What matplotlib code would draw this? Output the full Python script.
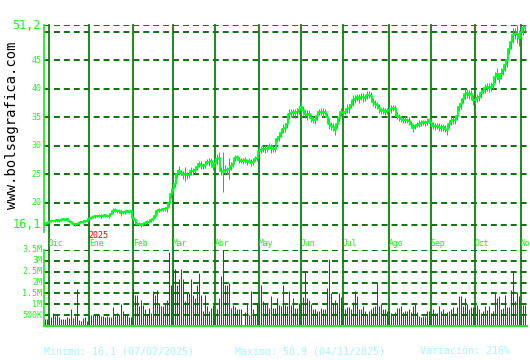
import matplotlib
matplotlib.use('Agg')
import matplotlib.pyplot as plt
import numpy as np

# daily closes, one per session, late Nov 2024 -> 04/11/2025
close = [16.35, 16.5, 16.6, 16.8, 16.75, 16.85, 16.9, 16.8, 17.0, 17.1,
         17.05, 17.1, 16.8, 16.6, 16.3, 16.2, 16.25, 16.4, 16.6, 16.7,
         16.8, 16.75, 17.2, 17.3, 17.5, 17.6, 17.7, 17.75, 17.6, 17.7,
         17.8, 17.65, 17.7, 18.1, 18.6, 18.7, 18.5, 18.6, 18.2, 18.3,
         18.4, 18.5, 18.45, 18.5, 17.4, 16.9, 16.35, 16.3, 16.1, 16.2,
         16.4, 16.6, 16.6, 16.9, 17.1, 17.6, 18.5, 18.7, 18.8, 18.85,
         18.9, 19.0, 20.0, 21.5, 22.5, 23.3, 25.0, 25.6, 25.3, 24.9,
         25.1, 24.8, 24.9, 25.6, 25.5, 25.7, 26.3, 26.8, 26.6, 26.5,
         26.7, 27.2, 27.1, 27.3, 26.3, 27.0, 27.6, 27.9, 25.6, 25.4,
         25.8, 25.7, 26.0, 26.4, 26.8, 27.8, 28.0, 27.5, 27.4, 27.3,
         27.5, 27.2, 27.4, 27.0, 27.1, 27.7, 27.9, 29.15, 29.3, 29.45,
         29.5, 29.4, 30.0, 29.6, 29.45, 29.5, 31.2, 31.6, 32.3, 33.0,
         33.2, 33.85, 35.6, 35.8, 35.9, 35.7, 35.9, 36.3, 36.8, 36.2,
         35.6, 35.4, 35.6, 34.9, 34.55, 34.6, 35.3, 35.9, 36.0, 35.8,
         35.9, 35.0, 33.9, 33.55, 33.3, 32.7, 33.85, 34.8, 35.9, 35.7,
         35.9, 36.5, 36.6, 37.2, 37.95, 38.2, 38.5, 38.3, 38.6, 38.5,
         38.4, 38.85, 39.0, 38.7, 37.65, 37.3, 37.1, 36.6, 36.1, 36.2,
         36.0, 36.1, 36.3, 36.5, 36.6, 36.4, 35.3, 35.0, 34.7, 34.55,
         34.6, 34.45, 34.4, 33.8, 33.15, 33.4, 33.7, 33.9, 34.0, 34.1,
         33.95, 34.2, 34.45, 34.0, 33.55, 33.4, 33.5, 33.3, 33.2, 33.25,
         33.0, 32.7, 33.8, 34.3, 34.45, 34.5, 35.3, 36.8, 37.4, 38.2,
         39.15, 39.2, 39.0, 39.1, 38.0, 37.95, 38.4, 38.5, 39.2, 39.7,
         40.1, 40.3, 40.2, 40.4, 40.6, 42.0, 42.65, 41.8, 42.65, 43.3,
         44.1, 45.0, 47.0, 48.2, 49.4, 49.7, 49.6, 48.85, 49.9, 50.6,
         50.9]

# daily high-low range
rng = [.4, .3, .5, .4, .3, .4, .5, .3, .4, .4,
       .3, .4, .5, .4, .3, .5, .4, .3, .4, .5,
       .4, .3, .6, .4, .5, .4, .3, .5, .7, .4,
       .5, .4, .6, .5, .8, .6, .5, .7, .9, .5,
       .6, .4, .5, .6, .9, .7, .6, .5, .7, .6,
       .5, .6, .4, .5, .7, .6, .9, .7, .5, .6,
       .8, 1.2, 1.5, 1.3, 1.1, 1.2, 1.4, 1.6, 1.0, 1.3,
       2.4, 1.2, 1.0, 1.4, 1.1, .9, 1.2, 1.0, 1.3, 1.1,
       1.2, .9, 1.4, 1.0, 1.2, 1.6, 1.8, 2.0, 1.5, 7.0,
       1.8, 1.2, 3.6, 1.4, 1.0, 1.1, .9, 1.2, .8, 1.0,
       .9, 1.1, .8, 1.2, 1.0, .9, 1.1, 1.3, 1.2, 1.0,
       1.4, 1.1, 1.0, 1.6, 1.2, 1.3, 1.1, 1.5, 1.4, 1.6,
       1.5, 1.3, 1.8, 1.4, 1.2, 1.6, 1.3, 1.5, 2.0, 1.7,
       1.4, 1.8, 1.3, 1.5, 1.2, 1.4, 1.6, 1.1, 1.3, 1.5,
       1.2, 1.6, 1.8, 1.4, 1.3, 1.7, 1.5, 1.2, 1.4, 1.3,
       1.1, 1.5, 1.6, 1.3, 1.8, 1.4, 1.2, 1.7, 1.3, 1.5,
       1.2, 1.4, 1.1, 1.6, 1.5, 1.3, 1.2, 1.6, 1.0, 1.1,
       1.3, 1.0, 1.2, 1.4, 1.1, 1.5, 1.3, 1.2, 1.0, 1.1,
       1.2, 1.0, 1.4, 1.1, 1.3, 1.0, .9, 1.2, 1.1, 1.0,
       1.1, 1.2, 1.0, 1.3, 1.1, 1.2, 1.0, 1.4, 1.1, 1.3,
       1.2, 1.5, 1.3, 1.4, 1.1, 1.2, 1.6, 1.5, 1.8, 1.4,
       1.7, 1.5, 1.6, 1.4, 1.8, 1.3, 1.5, 1.4, 1.6, 1.3,
       1.5, 1.4, 1.6, 1.5, 1.2, 1.8, 2.0, 1.6, 1.9, 1.7,
       2.0, 2.2, 1.8, 2.4, 2.6, 2.0, 3.2, 2.8, 2.4, 2.2,
       1.6]

# volume, millions
vol = [0.32, 0.32, 0.52, 0.42, 0.60, 0.48, 0.52, 0.42, 0.34, 0.34,
       0.32, 0.40, 0.37, 0.76, 0.37, 0.46, 1.71, 0.29, 0.22, 0.37,
       0.42, 0.22, 0.48, 0.52, 0.52, 0.54, 0.52, 0.51, 0.45, 0.48,
       0.42, 0.48, 0.42, 0.40, 0.88, 0.48, 0.60, 0.52, 1.03, 0.68,
       0.52, 0.56, 0.42, 0.42, 1.71, 1.45, 1.45, 0.94, 1.22, 0.99,
       0.80, 0.52, 0.83, 0.60, 1.59, 1.45, 1.64, 1.06, 0.94, 0.94,
       1.06, 1.19, 3.41, 1.91, 2.61, 2.61, 1.91, 2.18, 2.61, 2.18,
       1.14, 1.54, 1.54, 2.15, 1.45, 1.30, 1.91, 2.45, 1.44, 0.68,
       1.45, 0.94, 0.71, 0.83, 0.99, 0.57, 0.76, 1.27, 2.30, 3.53,
       1.87, 1.91, 1.96, 0.85, 0.99, 0.88, 0.79, 0.76, 0.76, 0.05,
       0.66, 1.06, 0.52, 1.59, 0.76, 0.52, 1.06, 1.08, 1.87, 1.13,
       1.03, 1.06, 0.83, 1.37, 0.83, 0.83, 1.27, 0.99, 0.94, 1.87,
       0.99, 0.91, 1.59, 0.99, 1.27, 0.83, 0.83, 1.06, 1.10, 1.33,
       2.53, 1.27, 1.22, 1.03, 0.80, 0.76, 0.71, 0.68, 0.83, 0.79,
       0.79, 1.77, 3.07, 1.50, 1.06, 1.22, 1.03, 1.53, 1.33, 0.99,
       0.80, 0.86, 0.88, 0.80, 1.11, 1.59, 1.37, 0.80, 0.76, 0.94,
       0.68, 0.56, 0.68, 0.79, 0.88, 0.94, 2.01, 0.94, 1.03, 0.79,
       0.76, 0.68, 0.71, 0.60, 0.57, 0.65, 0.83, 0.83, 0.94, 0.65,
       0.71, 0.71, 0.76, 0.63, 0.94, 1.06, 0.63, 0.48, 0.42, 0.45,
       0.48, 0.71, 0.68, 0.57, 0.76, 0.59, 0.60, 0.94, 0.68, 0.76,
       0.60, 0.63, 0.71, 0.76, 0.88, 0.60, 0.88, 1.40, 1.37, 0.94,
       1.27, 1.03, 0.76, 0.86, 0.86, 0.94, 0.99, 0.76, 0.60, 0.71,
       0.94, 0.73, 0.94, 0.60, 0.71, 1.53, 1.30, 1.40, 0.76, 0.83,
       1.44, 0.86, 0.86, 1.64, 2.48, 1.14, 1.56, 1.40, 0.52, 0.99,
       0.95]

# first session of each month (index into the series)
month_pos = [2, 22, 44, 64, 85, 107, 128, 149, 172, 193, 215, 238]
month_lbl = ['Dic', 'Ene', 'Feb', 'Mar', 'Abr', 'May', 'Jun', 'Jul', 'Ago', 'Sep', 'Oct', 'Nov']

price_ticks = [20, 25, 30, 35, 40, 45]
price_lo, price_hi = 16.1, 51.2
vol_ticks = [0.5, 1, 1.5, 2, 2.5, 3, 3.5]
vol_lbl = ['500K', '1M', '1.5M', '2M', '2.5M', '3M', '3.5M']

GREEN = '#22ee22'
GRID = '#006400'
VLINE = '#0a820a'
MONO = 'DejaVu Sans Mono'
dash = (0, (3.3, 2.2))
PX = 72 / 100  # one pixel in points

W, H = 530, 360
fig = plt.figure(figsize=(W / 100, H / 100), dpi=100)
fig.patch.set_facecolor('white')

# price panel: y=25 -> 51.2 ... y=232 bottom
ax = fig.add_axes([44 / W, 1 - 232 / H, 483 / W, 207 / H])
# volume panel
vax = fig.add_axes([44 / W, 1 - 326 / H, 483 / W, 76 / H])

x = np.arange(len(close))
c = np.array(close)
r = np.array(rng)

pxu = 200 / (price_hi - price_lo)
ax.set_ylim(price_lo - 7 / pxu, price_hi)
# 2 px per session, sessions centred on pixel centres
ax.set_xlim(-0.25, 241.25)
vax.set_xlim(-0.25, 241.25)
vax.set_ylim(0, 3.5)

for a in (ax, vax):
    a.set_facecolor('white')
    for s in a.spines.values():
        s.set_visible(False)
    a.set_xticks([])
    a.set_yticks([])

# grid
for v in [price_lo] + price_ticks + [50, price_hi]:
    ax.axhline(v, color=GRID, lw=1.3, ls=dash, zorder=1)
for v in vol_ticks:
    vax.axhline(v, color=GRID, lw=1.3, ls=dash, zorder=1)

gap = (250 - 232) / 207
for m, lbl in zip(month_pos, month_lbl):
    ax.axvline(m, ymin=-gap, ymax=1, color=VLINE, lw=1.3, clip_on=False, zorder=1)
    vax.axvline(m, color=VLINE, lw=1.3, zorder=1)
    ax.text(m + 0.2, -11.5 / 207, lbl, transform=ax.get_xaxis_transform(),
            color=GREEN, fontsize=5.8, family=MONO, ha='left', va='center', clip_on=False)
ax.text(month_pos[1] + 0.2, -3.5 / 207, '2025', transform=ax.get_xaxis_transform(),
        color='#ee0000', fontsize=6, family=MONO, ha='left', va='center')

# left axis lines
ax.plot([0, 0], [0, 1], transform=ax.transAxes, color=GREEN, lw=1.3, clip_on=False)
vax.plot([0, 0], [0, 1], transform=vax.transAxes, color=GREEN, lw=1.3, clip_on=False)
vax.plot([0, 1], [0, 0], transform=vax.transAxes, color=GREEN, lw=1.5, clip_on=False, zorder=5)

# price bars and close line
ax.vlines(x, c - r / 2, c + r / 2, color='#2aa3b5', lw=PX, zorder=3)
ax.plot(x, c, color='#00ff22', lw=1.4, drawstyle='steps-mid', zorder=4)

# volume
vax.vlines(x, 0, vol, color='#e00000', lw=PX, zorder=3)

# tick labels
yt = ax.get_yaxis_transform()
for v in price_ticks:
    ax.text(-0.006, v, str(v), transform=yt, color=GREEN, fontsize=6,
            family=MONO, ha='right', va='center')
for v in (price_lo, price_hi):
    ax.text(-0.006, v, f'{v:.1f}'.replace('.', ','), transform=yt, color=GREEN,
            fontsize=8.5, family=MONO, ha='right', va='center')
vt = vax.get_yaxis_transform()
for v, l in zip(vol_ticks, vol_lbl):
    vax.text(-0.004, v, l, transform=vt, color=GREEN, fontsize=6,
             family=MONO, ha='right', va='center')

fig.text(12 / W, 1 - 125 / H, 'www.bolsagrafica.com', rotation=90, color='black',
         fontsize=10, family=MONO, ha='center', va='center')

foot = '#a8f4ff'
fy = 1 - 351 / H
fig.text(44 / W, fy, 'Minimo: 16,1 (07/02/2025)', color=foot, fontsize=7.2, family=MONO, va='center')
fig.text(235 / W, fy, 'Maximo: 50,9 (04/11/2025)', color=foot, fontsize=7.2, family=MONO, va='center')
fig.text(420 / W, fy, 'Variación: 216%', color=foot, fontsize=7.2, family=MONO, va='center')

fig.savefig('out.png', dpi=100, facecolor='white')
